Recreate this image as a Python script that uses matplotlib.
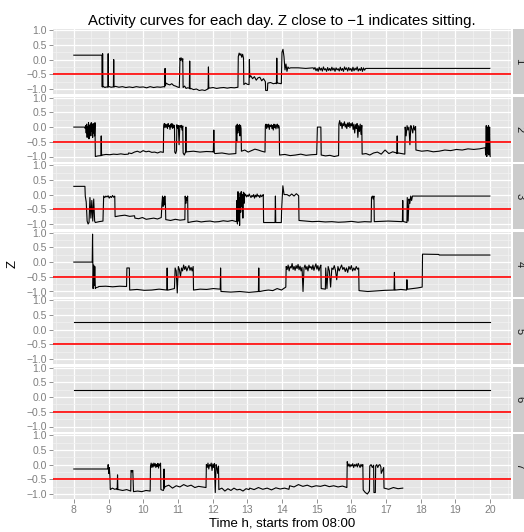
import numpy as np
import matplotlib
matplotlib.use("Agg")
import matplotlib.pyplot as plt

plt.rcParams['font.family'] = ['Liberation Sans', 'DejaVu Sans']

# each day: segments of (start hour, end hour, z values read along the segment)
day1 = [
    (8.00, 8.81, [0.15, 0.15]),
    (8.82, 8.84, [-0.93, 0.20, -0.93]),
    (8.86, 8.97, [-0.92, -0.95, -0.93, -0.94]),
    (8.98, 9.00, [-0.93, 0.20, -0.93]),
    (9.02, 9.13, [-0.92, -0.94, -0.93]),
    (9.14, 9.16, [-0.93, 0.00, -0.93]),
    (9.20, 10.60, [-0.91, -0.94, -0.92, -0.95, -0.93, -0.95, -0.92, -0.94, -0.93, -0.96, -0.92, -0.95, -0.93, -0.94, -0.92]),
    (10.62, 10.64, [-0.93, -0.30, -0.88]),
    (10.66, 11.04, [-0.80, -0.84, -0.86, -0.82, -0.88, -0.90, -0.93, -0.95]),
    (11.06, 11.14, [0.05, -0.02, 0.06, 0.00, -0.05, 0.03]),
    (11.15, 11.32, [-0.95, -0.90, -0.98, -0.96, -0.97]),
    (11.33, 11.35, [-0.97, -0.05, -1.00]),
    (11.37, 11.86, [-0.98, -1.02, -1.00, -1.05, -1.03, -1.05, -1.00]),
    (11.87, 11.89, [-1.00, -0.25, -0.97]),
    (11.91, 12.73, [-0.97, -0.95, -0.98, -0.96, -0.95, -0.97, -0.95, -0.96, -0.94]),
    (12.74, 12.89, [0.10, 0.22, 0.15, 0.20, 0.08, 0.18, 0.05]),
    (12.90, 13.05, [-0.85, -0.80, -0.84, -0.85]),
    (13.06, 13.07, [0.00, -0.60]),
    (13.10, 13.52, [-0.55, -0.65, -0.58, -0.70, -0.62, -0.60, -0.72, -0.65, -0.75]),
    (13.53, 13.58, [-1.05, -1.05]),
    (13.59, 13.83, [-0.80, -0.78, -0.82, -0.80]),
    (13.84, 13.86, [-0.82, 0.05, -0.80]),
    (13.88, 13.98, [-0.80, -0.82]),
    (14.00, 14.20, [0.25, 0.35, 0.10, -0.35, -0.15, -0.40, -0.25, -0.30]),
    (14.25, 14.90, [-0.28, -0.28, -0.30, -0.28]),
    (14.92, 16.41, [-0.33, -0.27, -0.38, -0.30, -0.40, -0.26, -0.36, -0.29, -0.39, -0.25,
                    -0.35, -0.31, -0.40, -0.27, -0.37, -0.30, -0.38, -0.26, -0.36, -0.29,
                    -0.40, -0.28, -0.35, -0.31, -0.39, -0.26, -0.37, -0.30, -0.40, -0.25,
                    -0.34, -0.28, -0.39, -0.27, -0.36, -0.30, -0.40, -0.26, -0.38, -0.29,
                    -0.35, -0.25, -0.39, -0.31, -0.37, -0.27, -0.40, -0.28, -0.36, -0.30]),
    (16.42, 19.99, [-0.30, -0.30]),
]

day2 = [
    (8.00, 8.32, [0.00, 0.00]),
    (8.33, 8.61, [-0.05, 0.05, -0.20, 0.10, -0.35, 0.00, -0.10, 0.15, -0.40, 0.05, -0.25,
                  0.10, -0.30, 0.15, -0.15, 0.08, -0.35, 0.12, -0.20, 0.05, -0.30, 0.15]),
    (8.62, 8.77, [-1.00, -0.98, -0.97]),
    (8.78, 8.80, [-0.97, -0.30, -0.97]),
    (8.82, 9.57, [-0.95, -0.93, -0.94, -0.92, -0.93, -0.91, -0.93, -0.92]),
    (9.58, 10.58, [-0.88, -0.90, -0.85, -0.82, -0.86, -0.80, -0.84, -0.82, -0.86, -0.85, -0.88, -0.84, -0.86]),
    (10.59, 10.90, [0.05, 0.12, -0.02, 0.10, 0.00, 0.08, -0.05, 0.12, 0.02, 0.06,
                    -0.08, 0.10, 0.00, 0.12, -0.04, 0.08, -0.02, 0.06]),
    (10.91, 10.96, [-0.85, -0.90, -0.80]),
    (10.97, 11.14, [0.08, -0.05, 0.05, -0.60, 0.05, 0.00, 0.06, -0.10, 0.04]),
    (11.15, 11.22, [-0.88, -0.95, -0.85]),
    (11.23, 11.24, [0.00, -0.85]),
    (11.26, 12.01, [-0.84, -0.82, -0.85, -0.83, -0.84]),
    (12.02, 12.05, [-0.85, -0.10, -0.88]),
    (12.07, 12.67, [-0.90, -0.88, -0.92, -0.90]),
    (12.68, 12.82, [0.05, -0.50, 0.10, -0.20, 0.05, -0.10, 0.08, -0.30, 0.06, -0.05]),
    (12.83, 13.51, [-0.82, -0.78, -0.85, -0.80, -0.75, -0.78, -0.82, -0.85]),
    (13.52, 13.92, [0.05, 0.10, -0.05, 0.08, 0.00, 0.10, -0.08, 0.06, 0.02, 0.08, -0.05,
                    0.05, -0.10, 0.10, -0.02, 0.08, -0.06, 0.04, 0.10, -0.04, 0.06, 0.00]),
    (13.93, 15.00, [-0.95, -0.93, -0.97, -0.95, -0.92, -0.96, -0.94, -0.93]),
    (15.02, 15.12, [0.00, 0.00]),
    (15.13, 15.63, [-0.95, -0.98, -0.96, -1.00, -0.97]),
    (15.64, 16.30, [0.10, 0.22, 0.05, 0.15, -0.05, 0.12, 0.05, 0.18, 0.00, 0.10, -0.05, 0.14, 0.02, 0.16, -0.02,
                    0.12, 0.04, 0.15, -0.08, 0.10, -0.20, 0.08, -0.05, 0.12, -0.35, 0.05, -0.15, 0.10, -0.25, 0.06]),
    (16.31, 17.30, [-0.92, -0.90, -0.95, -0.88, -0.85, -0.92, -0.78, -0.90, -0.84, -0.88]),
    (17.31, 17.33, [-0.90, -0.30, -0.90]),
    (17.35, 17.54, [-0.88, -0.92]),
    (17.55, 17.85, [0.00, -0.30, 0.05, -0.10, 0.00, -0.60, 0.05, -0.05, -0.20, 0.05, -0.10, 0.02]),
    (17.86, 19.86, [-0.78, -0.82, -0.80, -0.84, -0.82, -0.78, -0.80, -0.76, -0.78, -0.74, -0.76, -0.74, -0.70]),
    (19.87, 20.00, [-0.95, 0.05, -1.00, 0.00, -0.90, 0.05, -0.95, 0.00, -1.00]),
]

day3 = [
    (8.00, 8.32, [0.28, 0.28]),
    (8.33, 8.60, [-0.05, -0.25, -0.90, -1.00, -0.95, -0.10, -0.80, -0.20, -0.90, -0.15, -0.90]),
    (8.62, 8.84, [-0.95, -0.92, -0.90]),
    (8.86, 9.18, [-0.05, -0.10, -0.05, -0.08, -0.04, -0.12, -0.06, -0.10, -0.03, -0.09, -0.05]),
    (9.19, 9.75, [-0.75, -0.72, -0.70, -0.74, -0.72]),
    (9.76, 10.52, [-0.80, -0.82, -0.78, -0.84, -0.82, -0.80, -0.83, -0.78]),
    (10.54, 10.64, [-0.30, -0.05, -0.40, -0.10, -0.35, -0.05, -0.30]),
    (10.65, 11.20, [-0.85, -0.88, -0.84, -0.87, -0.85]),
    (11.21, 11.28, [-0.05, -0.30, -0.10, -0.20, -0.05]),
    (11.29, 12.69, [-0.95, -0.92, -0.90, -0.93, -0.91, -0.90, -0.93, -0.92, -0.89, -0.91, -0.88, -0.92]),
    (12.70, 12.92, [-0.20, -1.00, 0.10, -0.90, -0.10, -1.05, 0.05, -0.60, 0.10, -0.40, 0.00,
                    -0.80, 0.08, -0.30, 0.05]),
    (12.93, 13.46, [-0.05, 0.00, -0.08, -0.02, -0.06, 0.02, -0.05, -0.10, -0.03, -0.07, 0.00,
                    -0.12, -0.02, -0.08, 0.02, -0.06, -0.03, -0.10, -0.01, -0.07, -0.04, 0.00]),
    (13.47, 13.79, [-0.95, -0.95]),
    (13.80, 13.82, [-0.95, -0.05, -0.95]),
    (13.84, 13.98, [-0.95, -0.95]),
    (13.99, 14.06, [-0.50, 0.30, 0.00]),
    (14.08, 14.48, [0.00, 0.00, -0.05, 0.02, -0.05, 0.03, -0.04]),
    (14.49, 16.57, [-0.88, -0.90, -0.92, -0.91, -0.93, -0.92, -0.94, -0.93, -0.91, -0.94, -0.92, -0.93]),
    (16.58, 16.65, [-0.10, -0.05, -0.15, -0.05]),
    (16.66, 17.46, [-0.92, -0.90, -0.92]),
    (17.47, 17.49, [-0.90, -0.20, -0.90]),
    (17.51, 17.60, [-0.92, -0.95]),
    (17.61, 17.76, [-0.10, -0.90, -0.15, -0.30, -0.05, -0.20, -0.05]),
    (17.77, 19.99, [-0.05, -0.05]),
]

day4 = [
    (8.00, 8.53, [0.00, 0.00]),
    (8.54, 8.62, [0.95, -0.90, -0.10, -0.80, -0.15, -0.90]),
    (8.64, 8.70, [-0.87, -0.85]),
    (8.72, 9.52, [-0.83, -0.82, -0.84, -0.82, -0.83]),
    (9.53, 9.60, [-0.20, -0.20]),
    (9.61, 10.67, [-0.95, -0.93, -0.96, -0.95, -0.92, -0.95]),
    (10.68, 10.70, [-0.95, -0.20, -0.95]),
    (10.72, 10.90, [-0.95, -0.90]),
    (10.92, 11.44, [-0.20, -0.30, -1.05, -0.15, -0.25, -0.50, -0.20, -0.30, -0.10, -0.25, -0.15,
                    -0.30, -0.20, -0.12, -0.28, -0.18, -0.30, -0.15]),
    (11.45, 12.21, [-0.95, -0.92, -0.93, -0.90, -0.92]),
    (12.22, 12.24, [-0.92, -0.20, -1.00]),
    (12.26, 13.31, [-1.00, -1.02, -1.00, -1.03, -1.00]),
    (13.32, 13.34, [-1.00, -0.20, -1.00]),
    (13.36, 14.11, [-1.00, -0.97, -0.95, -0.97, -0.90, -0.95, -0.85]),
    (14.12, 15.12, [-0.15, -0.25, -0.10, -0.30, -0.15, -0.20, -0.05, -0.25, -0.15, -0.28,
                    -0.12, -0.22, -0.08, -0.26, -0.14, -0.30, -0.18, -1.00, -0.20, -0.10,
                    -0.25, -0.15, -0.30, -0.10, -0.20, -0.15, -0.25, -0.10, -0.28, -0.16,
                    -0.06, -0.24, -0.12, -0.30, -0.18, -0.10]),
    (15.13, 15.25, [-0.90, -0.92]),
    (15.26, 16.21, [-0.20, -0.90, -0.15, -0.30, -0.85, -0.20, -0.25, -0.12, -0.28, -0.60,
                    -0.15, -0.30, -0.20, -0.10, -0.25, -0.18, -0.32, -0.20, -0.35, -0.15,
                    -0.25, -0.12, -0.30, -0.20, -0.28, -0.15, -0.24, -0.20]),
    (16.22, 17.22, [-0.97, -1.00, -0.98, -0.96, -0.95]),
    (17.23, 17.25, [-0.95, -0.35, -0.95]),
    (17.27, 17.58, [-0.95, -0.93, -0.95]),
    (17.59, 17.61, [-0.95, -0.60, -0.92]),
    (17.63, 18.04, [-0.92, -0.90, -0.88, -0.85]),
    (18.05, 18.52, [0.27, 0.26]),
    (18.53, 19.99, [0.24, 0.24]),
]

day5 = [(8.00, 19.99, [0.25, 0.25])]
day6 = [(8.00, 19.99, [0.25, 0.25])]

day7 = [
    (8.00, 8.98, [-0.15, -0.15]),
    (8.99, 9.04, [0.00, -0.30, -0.10, -0.40]),
    (9.05, 9.24, [-0.85, -0.80, -0.84, -0.82]),
    (9.25, 9.27, [-0.85, -0.35, -0.85]),
    (9.29, 9.64, [-0.85, -0.88, -0.85, -0.90]),
    (9.65, 9.70, [-0.20, -0.25, -0.20]),
    (9.72, 10.20, [-0.92, -0.90, -0.92, -0.88, -0.90]),
    (10.21, 10.50, [-0.05, 0.05, -0.10, 0.02, -0.08, 0.05, -0.05, 0.03, -0.10, 0.00,
                    -0.06, 0.04, -0.12, 0.02, -0.04, 0.05]),
    (10.51, 10.58, [-0.85, -0.88]),
    (10.59, 10.61, [-0.85, -0.15, -0.80]),
    (10.63, 11.81, [-0.75, -0.70, -0.80, -0.72, -0.76, -0.68, -0.74, -0.70, -0.78, -0.74, -0.76, -0.78]),
    (11.82, 12.17, [0.00, -0.10, 0.05, -0.15, 0.00, -0.05, 0.05, -0.20, 0.02, -0.10, 0.04,
                    -0.95, 0.00, -0.10, -0.30, -0.05]),
    (12.18, 13.05, [-0.85, -0.80, -0.90, -0.82, -0.88, -0.80, -0.86, -0.84, -0.90, -0.82, -0.85]),
    (13.07, 14.20, [-0.80, -0.85, -0.78, -0.84, -0.80, -0.86, -0.79, -0.83, -0.80, -0.84]),
    (14.22, 15.87, [-0.72, -0.76, -0.68, -0.74, -0.70, -0.76, -0.72, -0.74, -0.70, -0.75, -0.72, -0.76, -0.73, -0.78]),
    (15.88, 16.33, [0.10, -0.05, 0.02, -0.08, 0.00, -0.05, 0.03, -0.10, 0.00, -0.05,
                    0.02, -0.08, 0.04, -0.03, -0.10, 0.01, -0.06, 0.00]),
    (16.34, 16.52, [-0.86, -0.95, -1.00, -0.90]),
    (16.53, 16.64, [-0.05, 0.00, -0.10, -0.02]),
    (16.65, 16.69, [-0.95, -0.95]),
    (16.70, 16.85, [-0.05, 0.00, -0.10, -0.02, 0.00, -0.08]),
    (16.86, 16.93, [-0.30, -0.10]),
    (16.94, 17.48, [-0.80, -0.84, -0.78, -0.82, -0.80]),
]

days = [day1, day2, day3, day4, day5, day6, day7]
day_labels = ['1', '2', '3', '4', '5', '6', '7']
y_ticks = [-1.0, -0.5, 0.0, 0.5, 1.0]
x_ticks = list(range(8, 21))
sitting_level = -0.5


def unpack(segments):
    t, z = [], []
    for start, end, values in segments:
        t.extend(np.linspace(start, end, len(values)))
        z.extend(values)
    return np.array(t), np.array(z)


W, H = 524, 532
fig = plt.figure(figsize=(W / 100, H / 100), dpi=100)

left, right, top = 53, 511, 29
panel_h, gap = 65.0, 2.5
grey_txt = '#7F7F7F'

for i, (seg, lab) in enumerate(zip(days, day_labels)):
    y0 = top + i * (panel_h + gap)
    ax = fig.add_axes([left / W, 1 - (y0 + panel_h) / H, (right - left) / W, panel_h / H])
    ax.set_facecolor('#E5E5E5')
    for s in ax.spines.values():
        s.set_visible(False)
    ax.set_xlim(7.4, 20.6)
    ax.set_ylim(-1.17, 1.04)
    ax.set_xticks(x_ticks)
    ax.set_yticks(y_ticks)
    ax.set_xticks(np.arange(7.5, 21, 1.0), minor=True)
    ax.set_yticks([-0.75, -0.25, 0.25, 0.75], minor=True)
    ax.grid(which='major', color='white', linewidth=0.9)
    ax.grid(which='minor', color='#F2F2F2', linewidth=0.5)
    ax.set_axisbelow(True)
    ax.tick_params(which='minor', length=0)
    ax.tick_params(which='major', color=grey_txt, labelcolor=grey_txt, labelsize=7.5,
                   length=3, width=0.6, pad=1.5)
    ax.set_yticklabels(['−1.0', '−0.5', '0.0', '0.5', '1.0'])
    if i < len(days) - 1:
        ax.tick_params(axis='x', length=0, labelbottom=False)

    t, z = unpack(seg)
    ax.plot(t, z, color='black', linewidth=0.8)
    ax.axhline(sitting_level, color='#FF0000', linewidth=1.2)

    # strip on the right
    sax = fig.add_axes([513 / W, 1 - (y0 + panel_h) / H, 20 / W, panel_h / H])
    sax.set_facecolor('#CCCCCC')
    sax.set_xticks([])
    sax.set_yticks([])
    for s in sax.spines.values():
        s.set_visible(False)
    fig.text(519.5 / W, 1 - (y0 + panel_h / 2) / H, lab, rotation=-90,
             ha='center', va='center', fontsize=8, color='#1A1A1A')

fig.text((left + right) / 2 / W, 1 - 21 / H,
         'Activity curves for each day. Z close to −1 indicates sitting.',
         ha='center', va='center', fontsize=10.8)
fig.text((left + right) / 2 / W, 1 - 523 / H, 'Time h, starts from 08:00',
         ha='center', va='center', fontsize=9.5)
fig.text(13 / W, 1 - 264 / H, 'Z', rotation=90, ha='center', va='center', fontsize=9.5)

fig.savefig('out.png', dpi=100)
